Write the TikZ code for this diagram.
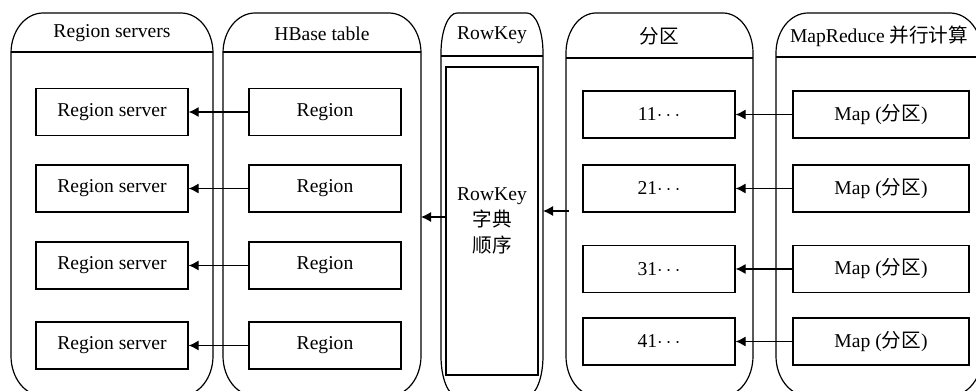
\documentclass[tikz,border=0pt]{standalone}
\usepackage{fontspec}
\setmainfont{Liberation Serif}
\newfontfamily\cjk{Noto Sans CJK SC}
\usepackage{tikz}
\usetikzlibrary{arrows.meta}

\begin{document}
\begin{tikzpicture}[x=0.5pt, y=-0.5pt, font=\fontsize{9.8}{12}\selectfont,
        lane/.style={line width=0.6pt},
        box/.style={draw, line width=0.6pt, minimum width=76pt, minimum height=23.5pt, inner sep=0pt},
        arr/.style={line width=0.6pt, -{Latex[length=5pt, width=5pt]}}]
            \useasboundingbox (0,0) rectangle (976,391);
            \clip (0,0) rectangle (976,391);
            % the five lanes, open at the bottom edge
            \foreach \xa/\xb/\hy/\rx/\nm/\txt in {11/213/52/32/lSrv/{Region servers},
                    223/421/52/32/lTbl/{HBase table},
                    441/543/56/16/lKey/{RowKey},
                    566/753/58/30/lPart/{{\cjk 分区}},
                    776/982/57/32/lMR/{MapReduce {\cjk 并行计算}}} {
                \draw[lane] (\xa,53) arc[start angle=180, end angle=270, x radius=\rx, y radius=40]
                    -- (\xb-\rx,13) arc[start angle=270, end angle=360, x radius=\rx, y radius=40]
                    -- (\xb,356) arc[start angle=0, end angle=90, x radius=\rx, y radius=40]
                    -- (\xa+\rx,396) arc[start angle=90, end angle=180, x radius=\rx, y radius=40]
                    -- cycle;
                \draw[lane] (\xa,\hy) -- (\xb,\hy);
                \node (\nm) at ({(\xa+\xb)/2},{(13+\hy)/2+1}) {\txt};
            }
            % servers and regions
            \foreach \i/\y in {1/112,2/188.5,3/265.5,4/345.5} {
                \node[box] (srv\i) at (112,\y) {Region server};
                \node[box] (reg\i) at (325,\y) {Region};
                \draw[arr] (reg\i.west) -- (srv\i.east);
            }
            % partitions and map tasks
            \foreach \i/\y in {1/114.5,2/188.5,3/269,4/341.5} {
                \node[box] (part\i) at (659,\y) {\i1$\cdots$};
                \node[box, minimum width=88pt] (map\i) at (881,\y) {Map ({\cjk 分区})};
                \draw[arr] (map\i.west) -- (part\i.east);
            }
            % row key ordering
            \node[box, minimum width=46pt, minimum height=154pt, align=center] (keyBox) at (492,221)
                {RowKey\\[1pt]{\cjk 字典}\\[1pt]{\cjk 顺序}};
            \coordinate (tblR) at (421,217);
            \coordinate (keyR) at (543,211);
            \coordinate (partL) at (569,211);
            \draw[arr] (keyBox.west |- tblR) -- (tblR);
            \draw[arr] (partL) -- (keyR);
\end{tikzpicture}
\end{document}
